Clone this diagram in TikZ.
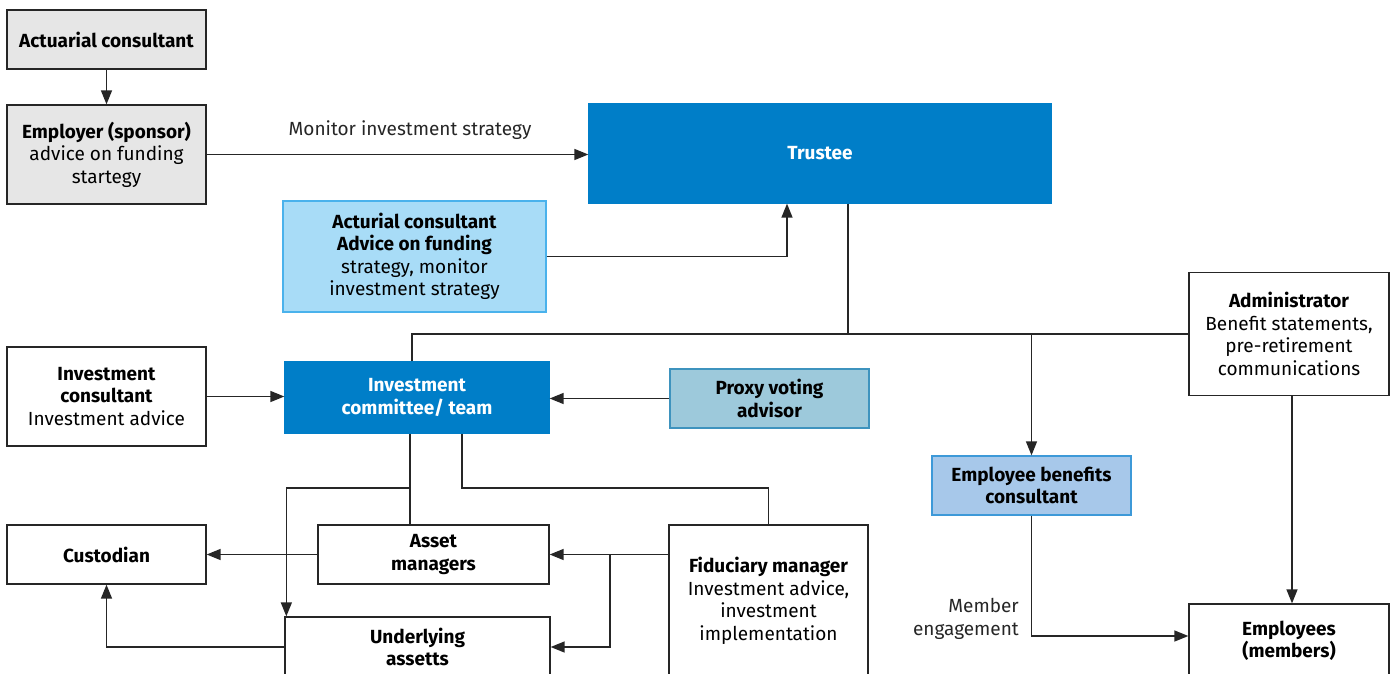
\documentclass[tikz,border=0pt]{standalone}
\usepackage{fontspec}
\setmainfont{Fira Sans}
\usetikzlibrary{arrows.meta}
\definecolor{boxgray}{HTML}{E6E6E6}
\definecolor{linedark}{HTML}{262626}
\definecolor{trustblue}{HTML}{007EC8}
\definecolor{skyfill}{HTML}{A8DCF7}
\definecolor{skyline}{HTML}{4AB2EC}
\definecolor{proxyfill}{HTML}{9DC9DB}
\definecolor{proxyline}{HTML}{3E93BE}
\definecolor{ebcfill}{HTML}{A7C8EA}
\definecolor{ebcline}{HTML}{3D99D8}
\begin{document}
\begin{tikzpicture}[x=1pt,y=1pt,
  box/.style={draw=linedark,line width=1.3pt,fill=white,align=center,inner sep=0pt,
    font=\fontsize{19}{22.5}\selectfont},
  graybox/.style={box,fill=boxgray},
  bluebox/.style={box,draw=trustblue,fill=trustblue,text=white,font=\fontsize{19}{22.5}\selectfont\bfseries},
  lbl/.style={font=\fontsize{19}{22.5}\selectfont,text=linedark,align=center,inner sep=0pt},
  link/.style={line width=1.4pt,draw=linedark},
  arr/.style={link,-{Triangle[length=14pt,width=11pt]}}]
\clip (0,0) rectangle (1394,-674);
\fill[white] (0,0) rectangle (1394,-674);

% employer side
\node[graybox,minimum width=199,minimum height=59] (actu) at (106.5,-39.5) {\textbf{Actuarial consultant}};
\node[graybox,minimum width=199,minimum height=99] (employer) at (106.5,-154.5)
  {\textbf{Employer (sponsor)}\\advice on funding\\startegy};
\node[bluebox,minimum width=462,minimum height=99] (trustee) at (820,-153.5) {Trustee};
\node[box,draw=skyline,fill=skyfill,minimum width=263,minimum height=111] (actu2) at (414.5,-256.5)
  {\textbf{Acturial consultant}\\\textbf{Advice on funding}\\strategy, monitor\\investment strategy};
\node[lbl] (monlbl) at (410,-130) {Monitor investment strategy};

\draw[arr] (actu) -- (employer);
\draw[arr] (employer.east) -- (employer.east -| trustee.west);
\draw[arr] (actu2.east) -| ([xshift=-33]trustee.south);

% investment side
\node[box,minimum width=200,minimum height=123] (admin) at (1289,-334)
  {\textbf{Administrator}\\Benefit statements,\\pre-retirement\\communications};
\node[box,minimum width=199,minimum height=99] (invcons) at (106.5,-396.5)
  {\textbf{Investment}\\\textbf{consultant}\\Investment advice};
\node[bluebox,minimum width=264,minimum height=71] (committee) at (417,-397.5)
  {Investment\\committee/ team};
\node[box,draw=proxyline,fill=proxyfill,minimum width=199,minimum height=59] (proxy) at (769.5,-398.5)
  {\textbf{Proxy voting}\\\textbf{advisor}};
\node[box,draw=ebcline,fill=ebcfill,minimum width=199,minimum height=59] (ebc) at (1031.5,-485.5)
  {\textbf{Employee benefits}\\\textbf{consultant}};

\coordinate (busL) at (412,-334);
\draw[link] ([xshift=28]trustee.south) -- ([xshift=28]trustee.south |- busL);
\draw[link] (busL |- committee.north) -- (busL) -- (admin.west);
\draw[arr] (ebc.north |- busL) -- (ebc.north);
\draw[arr] (invcons.east) -- (invcons.east -| committee.west);
\draw[arr] (proxy.west) -- (proxy.west -| committee.east);

% managers and assets
\node[box,minimum width=199,minimum height=59] (cust) at (106.5,-554.5) {\textbf{Custodian}};
\node[box,minimum width=231,minimum height=59] (asset) at (433.5,-554.5) {\textbf{Asset}\\\textbf{managers}};
\node[box,minimum width=265,minimum height=60] (under) at (417.5,-647) {\textbf{Underlying}\\\textbf{assetts}};
\node[box,minimum width=199,minimum height=152] (fidu) at (768.5,-601)
  {\textbf{Fiduciary manager}\\Investment advice,\\investment\\implementation};
\node[box,minimum width=200,minimum height=74] (employees) at (1289,-641) {\textbf{Employees}\\\textbf{(members)}};
\node[lbl,anchor=east,align=right] (memlbl) at (1019,-619) {Member\\engagement};

\coordinate (cL) at ([xshift=-7]committee.south);
\coordinate (cR) at ([xshift=45]committee.south);
\coordinate (split) at (0,-488);
\coordinate (fork) at (610,-554.5);
\draw[link] (cL) -- (cL |- asset.north);
\draw[arr] (cL |- split) -| ([xshift=2]under.north west);
\draw[link] (cR) |- (split -| fidu.north) -- (fidu.north);
\draw[arr] (asset.west) -- (asset.west -| cust.east);
\draw[arr] (fidu.west |- asset.east) -- (asset.east);
\draw[arr] (fork) |- (under.east);
\draw[arr] (under.west) -| (cust.south);
\draw[arr] ([xshift=3]admin.south) -- ([xshift=3]employees.north);
\draw[arr] (ebc.south) |- ([yshift=5]employees.west);
\end{tikzpicture}
\end{document}
